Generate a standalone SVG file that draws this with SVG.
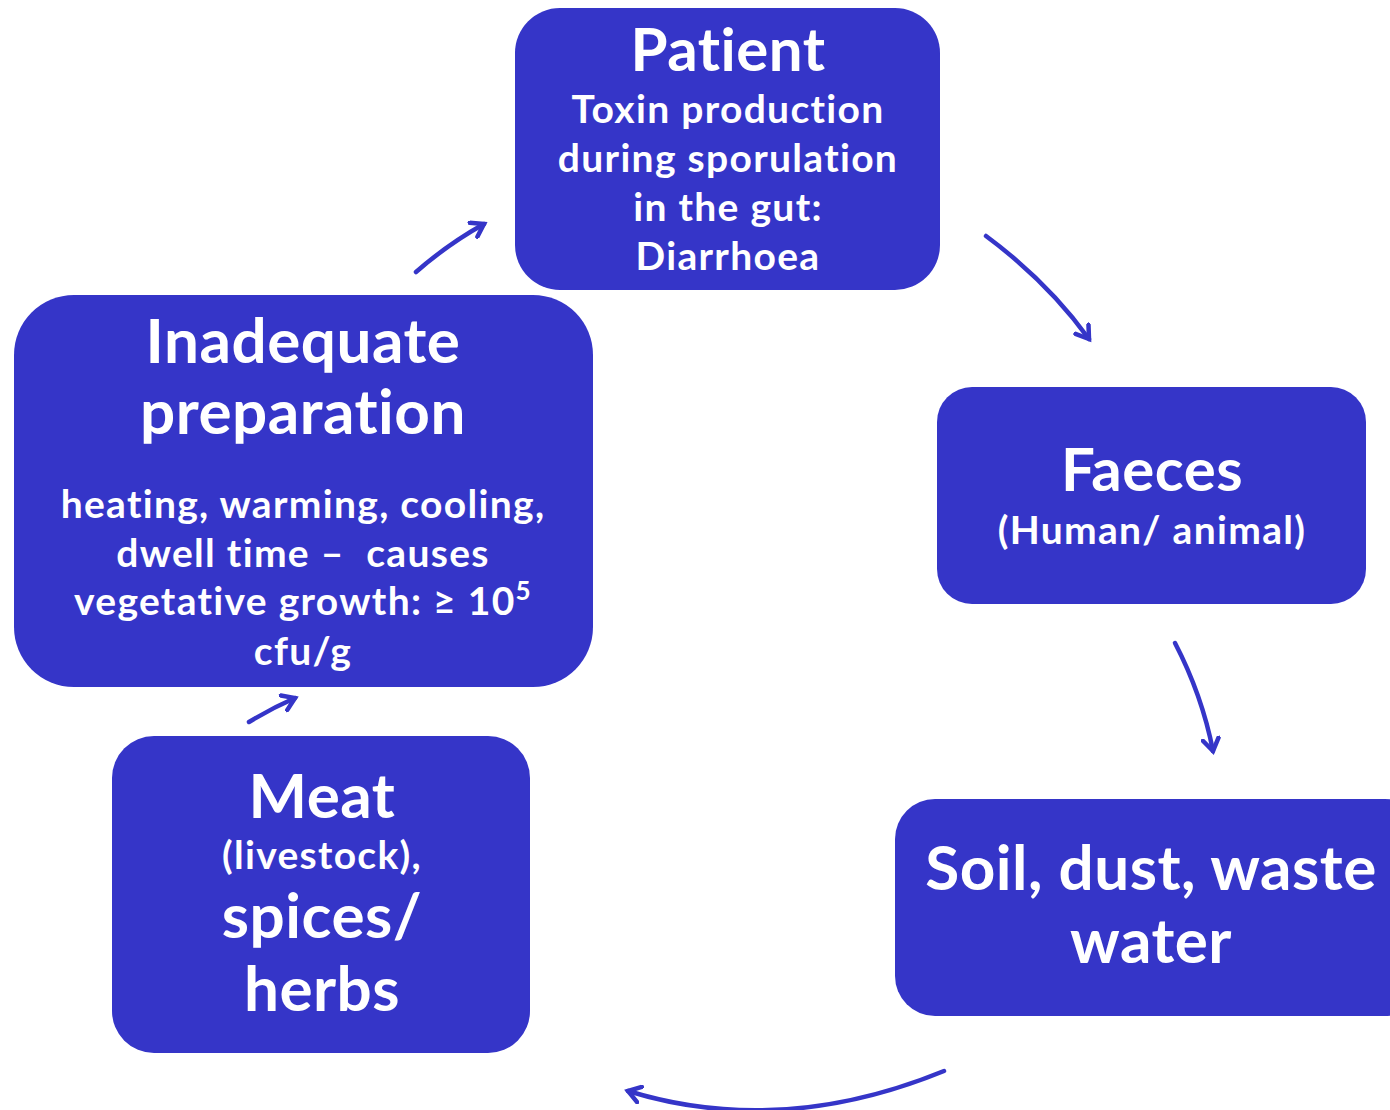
<svg xmlns="http://www.w3.org/2000/svg" width="1390" height="1110" viewBox="0 0 1390 1110">
<style>
.box{fill:#3535C8;}
text{font-family:Lato,"Open Sans","Liberation Sans",sans-serif;font-weight:bold;fill:#fff;text-anchor:middle;font-variant-ligatures:none;}
.big{font-size:62px;letter-spacing:0.5px;}
.mid{font-size:39px;letter-spacing:1.3px;}
.con{fill:none;stroke:#3535C8;stroke-width:4.5;stroke-linecap:round;}
</style>
<defs>
<marker id="ah" viewBox="0 0 20 20" refX="14" refY="10" markerWidth="20" markerHeight="20" markerUnits="userSpaceOnUse" orient="auto">
<path d="M2,2 L14,10 L2,18" fill="none" stroke="#3535C8" stroke-width="4.5" stroke-linecap="round" stroke-linejoin="miter"/>
</marker>
</defs>
<rect width="1390" height="1110" fill="#fff"/>
<g id="connectors">
<path class="con" marker-end="url(#ah)" d="M416,272 Q448,244 484,224"/>
<path class="con" marker-end="url(#ah)" d="M986,236 Q1048,282 1089,339"/>
<path class="con" marker-end="url(#ah)" d="M1175,643 Q1202,695 1213,751"/>
<path class="con" marker-end="url(#ah)" d="M944,1071 Q780,1138 628,1091"/>
<path class="con" marker-end="url(#ah)" d="M249,722 Q272,708 295,698"/>
</g>
<g id="patient">
<rect class="box" x="515" y="8" width="425" height="282" rx="45"/>
<text class="big" x="728" y="71" style="font-size:60px">Patient</text>
<text class="mid" x="728" y="123">Toxin production</text>
<text class="mid" x="728" y="172">during sporulation</text>
<text class="mid" x="728" y="221">in the gut:</text>
<text class="mid" x="728" y="270">Diarrhoea</text>
</g>
<g id="faeces">
<rect class="box" x="937" y="387" width="429" height="217" rx="35"/>
<text class="big" x="1152" y="491" style="font-size:60px">Faeces</text>
<text class="mid" x="1152" y="544">(Human/ animal)</text>
</g>
<g id="soil">
<rect class="box" x="895" y="799" width="530" height="217" rx="40"/>
<text class="big" x="1151" y="890">Soil, dust, waste</text>
<text class="big" x="1151" y="963">water</text>
</g>
<g id="meat">
<rect class="box" x="112" y="736" width="418" height="317" rx="42"/>
<text class="big" x="322" y="818">Meat</text>
<text class="mid" x="322" y="869">(livestock),</text>
<text class="big" x="322" y="938">spices/</text>
<text class="big" x="322" y="1011">herbs</text>
</g>
<g id="inadequate">
<rect class="box" x="14" y="295" width="579" height="392" rx="60"/>
<text class="big" x="303" y="363">Inadequate</text>
<text class="big" x="303" y="434">preparation</text>
<text class="mid" x="303" y="518">heating, warming, cooling,</text>
<text class="mid" x="303" y="567" xml:space="preserve">dwell time –  causes</text>
<text class="mid" x="303" y="615">vegetative growth: ≥ 10<tspan dy="-15" font-size="26">5</tspan></text>
<text class="mid" x="303" y="665">cfu/g</text>
</g>
</svg>
